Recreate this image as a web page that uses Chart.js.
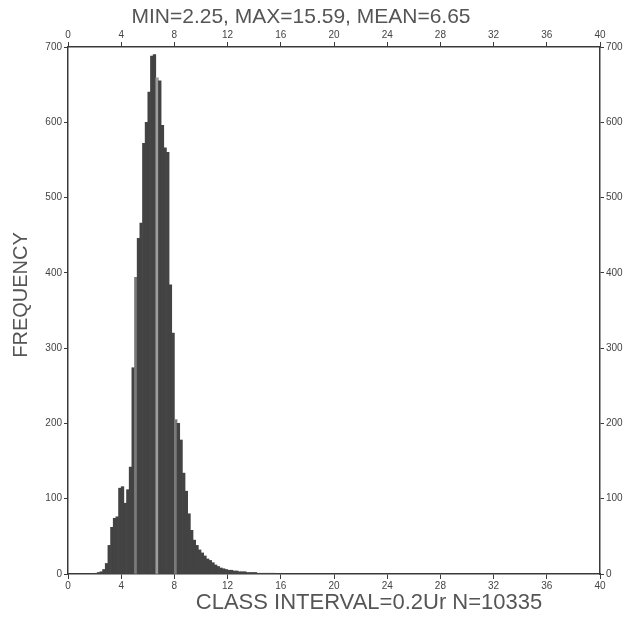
<!DOCTYPE html>
<html>
<head>
<meta charset="utf-8">
<script src="https://cdn.jsdelivr.net/npm/chart.js@4.4.1/dist/chart.umd.min.js"></script>
<style>
  html, body { margin: 0; padding: 0; background: #fff; }
  #wrap { width: 634px; height: 618px; position: relative; }
</style>
</head>
<body>
<div id="wrap"><canvas id="hist"></canvas></div>
<script>
/* Histogram: frequency per class interval of 0.2 Ur */
const TITLE = 'MIN=2.25, MAX=15.59, MEAN=6.65';
const X_TITLE = 'CLASS INTERVAL=0.2Ur N=10335';
const Y_TITLE = 'FREQUENCY';

const CLASS_INTERVAL = 0.2;

// lower edge of each class
const binStarts = [
  2.0, 2.2, 2.4, 2.6, 2.8, 3.0, 3.2, 3.4, 3.6, 3.8,
  4.0, 4.2, 4.4, 4.6, 4.8, 5.0, 5.2, 5.4, 5.6, 5.8,
  6.0, 6.2, 6.4, 6.6, 6.8, 7.0, 7.2, 7.4, 7.6, 7.8,
  8.0, 8.2, 8.4, 8.6, 8.8, 9.0, 9.2, 9.4, 9.6, 9.8,
  10.0, 10.2, 10.4, 10.6, 10.8, 11.0, 11.2, 11.4, 11.6, 11.8,
  12.0, 12.2, 12.4, 12.6, 12.8, 13.0, 13.2, 13.4, 13.6, 13.8,
  14.0, 14.2, 14.4, 14.6, 14.8, 15.0, 15.2, 15.4
];

// frequency per class
const counts = [
  1, 2, 3, 6, 14, 38, 62, 74, 76, 114,
  116, 94, 112, 142, 274, 394, 446, 466, 572, 600,
  640, 688, 690, 659, 655, 596, 566, 560, 384, 320,
  205, 200, 178, 134, 110, 80, 58, 45, 38, 32,
  28, 24, 20, 18, 15, 12, 10, 8, 7, 6,
  5, 5, 4, 4, 3, 3, 3, 2, 2, 2,
  2, 1, 1, 1, 1, 1, 1, 1
];

// axis ticks
const xTicks = [0, 4, 8, 12, 16, 20, 24, 28, 32, 36, 40];
const yTicks = [0, 100, 200, 300, 400, 500, 600, 700];

// scan streaks that show lighter in the original print
const lightBins = [5.0, 6.6, 8.0];

const BAR = '#434343';
const AXIS = '#3a3a3a';
const TEXT = '#555555';
const FONT = '"Liberation Sans", Arial, sans-serif';

const points = binStarts.map((s, i) => ({ x: s + CLASS_INTERVAL / 2, y: counts[i] }));
const colors = binStarts.map(s => {
  if (s === 6.6) return '#9c9c9c';
  if (lightBins.includes(s)) return '#7a7a7a';
  return BAR;
});

const tickFont = { family: FONT, size: 10 };

function fixedTicks(list) {
  return function (scale) {
    scale.ticks = list.map(v => ({ value: v }));
  };
}

function xScale(position, height) {
  return {
    type: 'linear',
    position,
    min: 0,
    max: 40,
    offset: false,
    afterBuildTicks: fixedTicks(xTicks),
    afterFit(scale) { scale.height = height; },
    grid: { drawOnChartArea: false, tickLength: 5, color: AXIS, offset: false },
    border: { color: AXIS, width: 1.5 },
    ticks: { font: tickFont, color: '#444', padding: 1, maxRotation: 0, autoSkip: false },
  };
}

function yScale(position, width) {
  return {
    type: 'linear',
    position,
    min: 0,
    max: 700,
    afterBuildTicks: fixedTicks(yTicks),
    afterFit(scale) { scale.width = width; },
    grid: { drawOnChartArea: false, tickLength: 4, color: AXIS },
    border: { color: AXIS, width: 1.5 },
    ticks: { font: tickFont, color: '#444', padding: 2, autoSkip: false },
  };
}

// titles drawn where the original plot puts them
const titlesPlugin = {
  id: 'titles',
  afterDraw(chart) {
    const { ctx } = chart;
    ctx.save();
    ctx.fillStyle = TEXT;
    ctx.textAlign = 'center';
    ctx.textBaseline = 'middle';
    ctx.font = '21px ' + FONT;
    ctx.fillText(TITLE, 301, 17);
    ctx.font = '22px ' + FONT;
    ctx.fillText(X_TITLE, 369, 603);
    ctx.font = '20px ' + FONT;
    ctx.translate(21, 295);
    ctx.rotate(-Math.PI / 2);
    ctx.fillText(Y_TITLE, 0, 0);
    ctx.restore();
  },
};

new Chart(document.getElementById('hist'), {
  type: 'bar',
  data: {
    datasets: [{
      data: points,
      backgroundColor: colors,
      borderWidth: 0,
      barPercentage: 1,
      categoryPercentage: 1,
      xAxisID: 'x',
      yAxisID: 'y',
    }],
  },
  options: {
    responsive: true,
    maintainAspectRatio: false,
    animation: false,
    layout: { padding: 0 },
    plugins: {
      legend: { display: false },
      tooltip: { enabled: false },
      title: { display: false },
    },
    scales: {
      x: xScale('bottom', 44),
      x2: xScale('top', 47),
      y: yScale('left', 68),
      y2: yScale('right', 34),
    },
  },
  plugins: [titlesPlugin],
});
</script>
</body>
</html>
